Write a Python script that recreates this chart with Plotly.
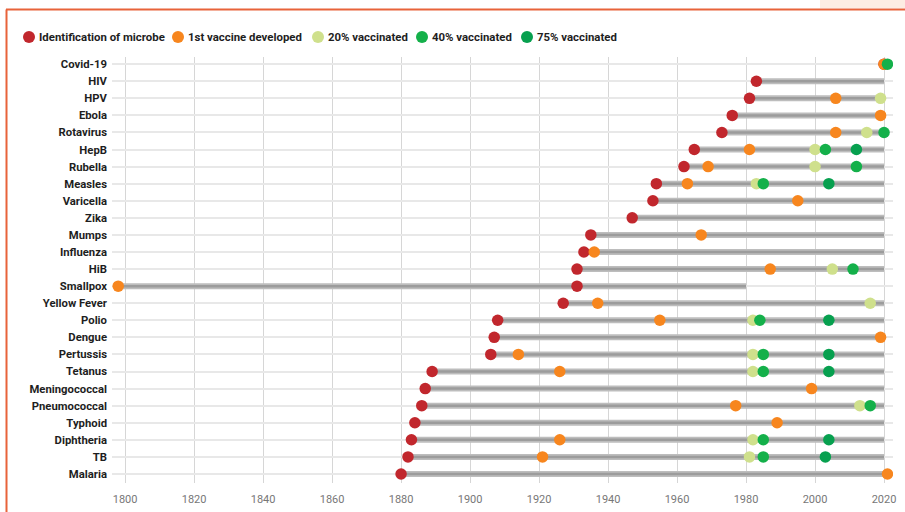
import plotly.graph_objects as go

# Diseases, top row first
diseases = ["Covid-19", "HIV", "HPV", "Ebola", "Rotavirus", "HepB", "Rubella", "Measles",
            "Varicella", "Zika", "Mumps", "Influenza", "HiB", "Smallpox", "Yellow Fever",
            "Polio", "Dengue", "Pertussis", "Tetanus", "Meningococcal", "Pneumococcal",
            "Typhoid", "Diphtheria", "TB", "Malaria"]

# Year the microbe was identified
identified = [2020, 1983, 1981, 1976, 1973, 1965, 1962, 1954,
              1953, 1947, 1935, 1933, 1931, 1931, 1927,
              1908, 1907, 1906, 1889, 1887, 1886,
              1884, 1883, 1882, 1880]

# Year the first vaccine was developed
first_vaccine = [2020, None, 2006, 2019, 2006, 1981, 1969, 1963,
                 1995, None, 1967, 1936, 1987, 1798, 1937,
                 1955, 2019, 1914, 1926, 1999, 1977,
                 1989, 1926, 1921, 2021]

# Coverage milestones
vacc_20 = [None, None, 2019, None, 2015, 2000, 2000, 1983,
           None, None, None, None, 2005, None, 2016,
           1982, None, 1982, 1982, None, 2013,
           None, 1982, 1981, None]

vacc_40 = [2021, None, None, None, 2020, 2003, 2012, 1985,
           None, None, None, None, 2011, None, None,
           1984, None, 1985, 1985, None, 2016,
           None, 1985, 1985, None]

vacc_75 = [None, None, None, None, None, 2012, None, 2004,
           None, None, None, None, None, None, None,
           2004, None, 2004, 2004, None, None,
           None, 2004, 2003, None]

# Start and end of each grey timeline bar
bar_start = [None, 1983, 1981, 1976, 1973, 1965, 1962, 1954,
             1953, 1947, 1935, 1933, 1931, 1798, 1927,
             1908, 1907, 1906, 1889, 1887, 1886,
             1884, 1883, 1882, 1880]
bar_end = [None, 2020, 2020, 2020, 2020, 2020, 2020, 2020,
           2020, 2020, 2020, 2020, 2020, 1980, 2020,
           2020, 2020, 2020, 2020, 2020, 2020,
           2020, 2020, 2020, 2020]

x_ticks = [1800, 1820, 1840, 1860, 1880, 1900, 1920, 1940, 1960, 1980, 2000, 2020]

series = [
    ("Identification of microbe", identified, "#c1272d"),
    ("1st vaccine developed", first_vaccine, "#f7861e"),
    ("20% vaccinated", vacc_20, "#cfe08c"),
    ("40% vaccinated", vacc_40, "#14b04a"),
    ("75% vaccinated", vacc_75, "#07a04f"),
]

LABEL_FONT = "Roboto, sans-serif"

fig = go.Figure()

# Timeline bars: a soft outer band with a darker core
bx, by = [], []
for name, s, e in zip(diseases, bar_start, bar_end):
    if s is None or e is None:
        continue
    bx += [s, e, None]
    by += [name, name, None]
fig.add_trace(go.Scatter(x=bx, y=by, mode="lines", line=dict(color="#bdbdbd", width=6),
                         hoverinfo="skip", showlegend=False))
fig.add_trace(go.Scatter(x=bx, y=by, mode="lines", line=dict(color="#9c9c9c", width=2.5),
                         hoverinfo="skip", showlegend=False))

for name, vals, color in series:
    xs = [v for v in vals if v is not None]
    ys = [d for d, v in zip(diseases, vals) if v is not None]
    fig.add_trace(go.Scatter(x=xs, y=ys, mode="markers", name=name,
                             marker=dict(color=color, size=11.5, line=dict(width=0)),
                             showlegend=False))

# Plot-area geometry in pixels, used for the frame and the key
W, H = 905, 512
L, R, T, B = 112, 12, 57, 29
pw, ph = W - L - R, H - T - B


def px_x(p):
    return (p - L) / pw


def px_y(p):
    return (H - B - p) / ph


shapes = [
    # pale tab in the top-right corner
    dict(type="rect", xref="paper", yref="paper", x0=px_x(820), x1=px_x(905),
         y0=px_y(8), y1=px_y(0), fillcolor="#fdede3", line=dict(width=0), layer="below"),
    # orange frame
    dict(type="line", xref="paper", yref="paper", x0=px_x(6), x1=px_x(905),
         y0=px_y(9.5), y1=px_y(9.5), line=dict(color="#e8633a", width=2)),
    dict(type="line", xref="paper", yref="paper", x0=px_x(6.5), x1=px_x(6.5),
         y0=px_y(9.5), y1=px_y(512), line=dict(color="#e8633a", width=2)),
]

annotations = []
key_x = [29, 178, 318, 422, 527]
key_y = 37
for (name, _, color), kx in zip(series, key_x):
    shapes.append(dict(type="circle", xref="paper", yref="paper",
                       xsizemode="pixel", ysizemode="pixel",
                       xanchor=px_x(kx), yanchor=px_y(key_y),
                       x0=-6, x1=6, y0=-6, y1=6,
                       fillcolor=color, line=dict(width=0)))
    annotations.append(dict(text=name, xref="paper", yref="paper",
                            x=px_x(kx + 8), y=px_y(key_y), xanchor="left", yanchor="middle",
                            showarrow=False,
                            font=dict(family=LABEL_FONT, size=11.4, color="#1e1e1e",
                                      weight="bold")))

fig.update_layout(
    width=W, height=H,
    margin=dict(l=L, r=R, t=T, b=B, pad=0),
    paper_bgcolor="white", plot_bgcolor="white",
    showlegend=False,
    shapes=shapes,
    annotations=annotations,
    xaxis=dict(range=[1796.2, 2022.6], tickvals=x_ticks, ticktext=[str(t) for t in x_ticks],
               showgrid=True, gridcolor="#d6d6d6", gridwidth=1, zeroline=False,
               showline=False, ticks="", ticklabelstandoff=8, automargin=False,
               tickfont=dict(family="Roboto, sans-serif", size=11, color="#777777")),
    yaxis=dict(type="category", categoryorder="array", categoryarray=diseases[::-1],
               range=[-0.53, 24.42], showgrid=True, gridcolor="#e8e8e8", gridwidth=2,
               zeroline=False, showline=False, ticks="", ticklabelstandoff=4,
               automargin=False,
               tickfont=dict(family=LABEL_FONT, size=11.3, color="#1e1e1e", weight="bold")),
)

fig.write_html("out.html")
